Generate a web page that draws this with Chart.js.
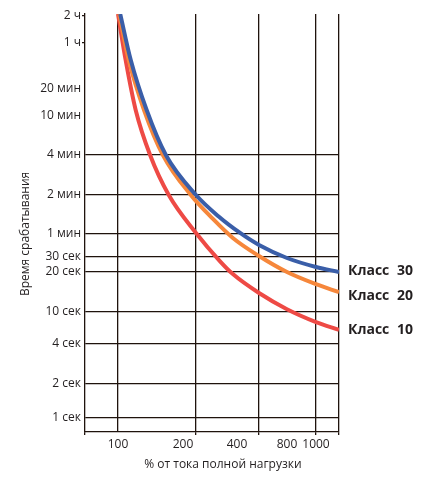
<!DOCTYPE html>
<html>
<head>
<meta charset="utf-8">
<script src="https://cdn.jsdelivr.net/npm/chart.js@4/dist/chart.umd.min.js"></script>
<style>
  html, body { margin: 0; padding: 0; background: #fff; }
  #wrap { width: 422px; height: 488px; }
</style>
</head>
<body>
<div id="wrap"><canvas id="tripChart" width="422" height="488"></canvas></div>
<script>
// Tripping time vs. load current for trip classes 30 / 20 / 10
const className = 'Класс';
const classNumbers = ['30', '20', '10'];
const classColors = ['#3a5ea8', '#f6873b', '#ee4a45'];

// load in % of full-load current, time in seconds
const class30Load = [102, 112, 129, 153, 200, 255, 325, 400, 627, 1000, 1450];
const class30Time = [7600, 2400, 700, 240, 120, 82.6, 61.1, 43.1, 29.2, 22.9, 20];
const class20Load = [101, 110, 126, 149, 191, 241, 300, 400, 627, 1000, 1450];
const class20Time = [7600, 2400, 700, 240, 120, 78.4, 53.2, 30.9, 20, 16.2, 14.1];
const class10Load = [100, 107, 117, 133, 157, 200, 260, 300, 400, 627, 1000, 1450];
const class10Time = [7600, 2400, 700, 240, 120, 61.1, 26.9, 19.3, 13.9, 10.5, 7.5, 6.0];

const timeTickSeconds = [7200, 3600, 1200, 600, 240, 120, 60, 30, 20, 10, 4, 2, 1];
const timeTickLabels = ['2 ч', '1 ч', '20 мин', '10 мин', '4 мин', '2 мин', '1 мин',
                        '30 сек', '20 сек', '10 сек', '4 сек', '2 сек', '1 сек'];
const loadTickLabels = ['100', '200', '400', '800', '1000'];

// the printed axes are hand-spaced (not a true log scale): value -> position on axis
const timeScaleVals = [0.75, 1, 2, 4, 10, 20, 30, 60, 120, 240, 600, 1200, 3600, 7200, 7600];
const timeScalePos  = [0, 14, 48, 88, 120, 160, 175, 198, 237, 277, 316, 343, 389, 416, 418];
const loadScaleVals = [75, 100, 200, 400, 1000, 1450];
const loadScalePos  = [0, 33, 111, 174, 231, 254];
// the load labels are printed a bit off the grid lines
const loadLabelPos = [33, 98, 152, 202, 231];

function toPos(v, vals, pos) {
    let i = 0;
    while (i < vals.length - 2 && v > vals[i + 1]) i++;
    const t = Math.log(v / vals[i]) / Math.log(vals[i + 1] / vals[i]);
    return pos[i] + t * (pos[i + 1] - pos[i]);
}

function curve(loads, times) {
    return loads.map((l, i) => ({
        x: toPos(l, loadScaleVals, loadScalePos),
        y: toPos(times[i], timeScaleVals, timeScalePos)
    }));
}

const ink = '#1f130d';
const font = { family: '"Open Sans", "DejaVu Sans", sans-serif', size: 12 };

const timeTickPos = timeTickSeconds.map(s => toPos(s, timeScaleVals, timeScalePos));
const gridFromPos = toPos(240, timeScaleVals, timeScalePos);   // grid only from 4 min down
const xTickPos = [...new Set([...loadScalePos, ...loadLabelPos])].sort((a, b) => a - b);

// "Класс NN" next to the end of each curve
const labelNudge = [-1, 4, 0];
const classLabels = {
    id: 'classLabels',
    afterDatasetsDraw(chart) {
        const ctx = chart.ctx;
        ctx.save();
        ctx.fillStyle = '#231f20';
        ctx.font = 'bold 14px "Open Sans", "DejaVu Sans", sans-serif';
        ctx.textBaseline = 'middle';
        chart.data.datasets.forEach((ds, i) => {
            const pts = chart.getDatasetMeta(i).data;
            const end = pts[pts.length - 1];
            ctx.fillText(className, end.x + 9, end.y + labelNudge[i]);
            ctx.fillText(classNumbers[i], end.x + 58, end.y + labelNudge[i]);
        });
        ctx.restore();
    }
};

new Chart(document.getElementById('tripChart'), {
    type: 'line',
    data: {
        datasets: [
            { data: curve(class30Load, class30Time), borderColor: classColors[0] },
            { data: curve(class20Load, class20Time), borderColor: classColors[1] },
            { data: curve(class10Load, class10Time), borderColor: classColors[2] }
        ]
    },
    options: {
        responsive: false,
        animation: false,
        layout: { padding: { top: 14, right: 83, bottom: 0, left: 0 } },
        elements: {
            line: { borderWidth: 4, cubicInterpolationMode: 'monotone', fill: false },
            point: { radius: 0 }
        },
        plugins: { legend: { display: false }, tooltip: { enabled: false } },
        scales: {
            x: {
                type: 'linear',
                min: 0,
                max: 254,
                afterBuildTicks: scale => { scale.ticks = xTickPos.map(v => ({ value: v })); },
                afterFit: scale => { scale.height = 56; },
                border: { color: ink, width: 1.3 },
                grid: {
                    color: c => loadScalePos.includes(c.tick.value) && c.tick.value > 0 ? ink : 'rgba(0,0,0,0)',
                    tickColor: c => loadScalePos.includes(c.tick.value) && c.tick.value !== 33 ? ink : 'rgba(0,0,0,0)',
                    lineWidth: 1.3,
                    tickLength: 3
                },
                ticks: {
                    autoSkip: false,
                    maxRotation: 0,
                    padding: 2,
                    color: '#231f20',
                    font: font,
                    callback: v => {
                        const k = loadLabelPos.indexOf(v);
                        return k >= 0 ? loadTickLabels[k] : '';
                    }
                },
                title: {
                    display: true,
                    text: '       % от тока полной нагрузки',
                    color: '#231f20',
                    font: font,
                    padding: { top: 0, bottom: 16 }
                }
            },
            y: {
                type: 'linear',
                min: 0,
                max: 418,
                afterBuildTicks: scale => { scale.ticks = timeTickPos.map(v => ({ value: v })); },
                afterFit: scale => { scale.width = 85; },
                border: { color: ink, width: 1.3 },
                grid: {
                    color: c => c.tick.value <= gridFromPos + 0.5 ? ink : 'rgba(0,0,0,0)',
                    tickColor: c => c.tick.value > 380 ? ink : 'rgba(0,0,0,0)',
                    lineWidth: 1.3,
                    tickLength: 3
                },
                ticks: {
                    autoSkip: false,
                    padding: 1,
                    color: '#231f20',
                    font: font,
                    callback: (v, i) => timeTickLabels[i]
                },
                title: {
                    display: true,
                    text: 'Время срабатывания       ',
                    color: '#231f20',
                    font: font,
                    padding: { top: 18, bottom: 0 }
                }
            }
        }
    },
    plugins: [classLabels]
});
</script>
</body>
</html>
